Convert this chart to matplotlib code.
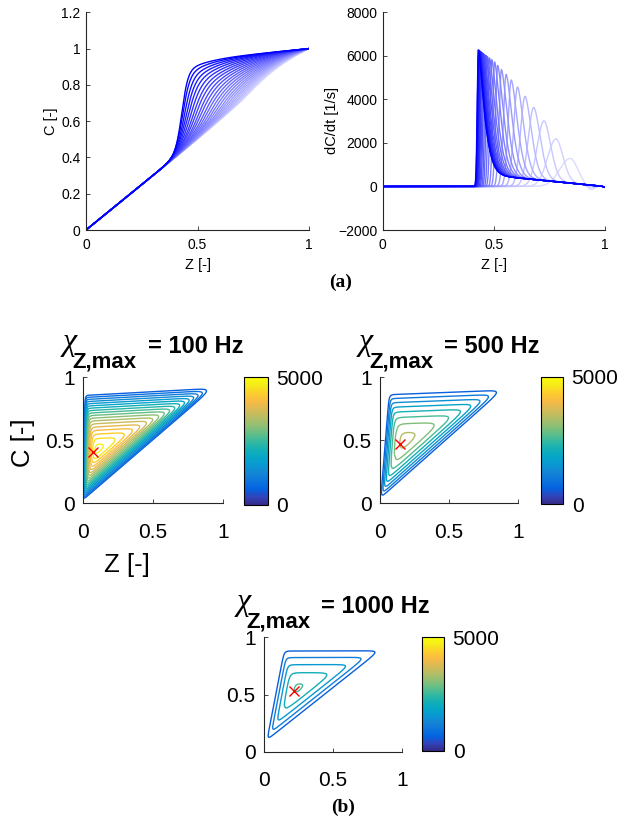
import numpy as np
import matplotlib
matplotlib.use("Agg")
import matplotlib.pyplot as plt
from matplotlib.colors import LinearSegmentedColormap, Normalize
import matplotlib.cm as cm

plt.rcParams['font.family'] = ['Liberation Sans', 'DejaVu Sans']

# ---------------- data ----------------
# (a) right: dC/dt curves, one peak per curve (Z position, height in 1/s)
peak_z = [0.430, 0.431, 0.433, 0.435, 0.437, 0.440, 0.444, 0.447, 0.452, 0.457,
          0.464, 0.471, 0.480, 0.490, 0.503, 0.517, 0.534, 0.555, 0.578, 0.606,
          0.640, 0.679, 0.725, 0.779, 0.843]
peak_rate = [6270, 6260, 6250, 6230, 6215, 6195, 6170, 6140, 6105, 6065,
             6020, 5965, 5900, 5820, 5720, 5560, 5370, 5150, 4890, 4570,
             4140, 3630, 3020, 2190, 1290]
tail_rate = 1000          # slow tail level of dC/dt after ignition (x (1-Z))
dip_rate = [0]*22 + [60, 130, 220]   # small undershoot near Z~0.93 (light curves)
# (a) left: C(Z) curves, ignition position of each curve
ign_z = [0.430, 0.434, 0.441, 0.448, 0.456, 0.465, 0.475, 0.484, 0.495, 0.505,
         0.517, 0.528, 0.540, 0.552, 0.564, 0.577, 0.589, 0.602, 0.616, 0.629,
         0.643, 0.657, 0.671, 0.685, 0.700]

# (b) contour panels
chi_hz = [100, 500, 1000]
peak_pts = [(0.074, 0.405), (0.145, 0.468), (0.219, 0.530)]
peak_vals = [5050, 3680, 2860]
# corners of the outermost contour (bottom-left, top-left, right)
tri_A = [(0.000, 0.028), (0.006, 0.046), (0.022, 0.104)]
tri_B = [(0.014, 0.856), (0.066, 0.862), (0.146, 0.880)]
tri_R = [(0.926, 0.912), (0.880, 0.897), (0.834, 0.882)]
profile = [1.6, 1.7, 1.4]
round_w = [0.022, 0.035, 0.035]
levels = [[600, 850, 1100, 1350, 1600, 1850, 2100, 2350, 2600, 2850, 3100, 3350,
           3600, 3850, 4100, 4350, 4600, 4850],
          [600, 1000, 1400, 1800, 2200, 2600, 3000, 3400],
          [600, 1100, 1600, 2100, 2600]]
cbar_ticks = [0, 5000]

# parula colormap control points
parula_pts = [(0.2081, 0.1663, 0.5292), (0.1959, 0.2645, 0.7279), (0.0117, 0.3875, 0.8820),
              (0.0498, 0.4586, 0.8641), (0.0793, 0.5200, 0.8312), (0.0343, 0.5966, 0.8199),
              (0.0228, 0.6535, 0.7768), (0.0843, 0.6928, 0.7062), (0.2178, 0.7250, 0.6193),
              (0.3953, 0.7459, 0.5244), (0.5709, 0.7485, 0.4494), (0.7184, 0.7411, 0.3905),
              (0.8507, 0.7299, 0.3360), (0.9739, 0.7314, 0.2666), (0.9880, 0.8066, 0.1794),
              (0.9598, 0.9218, 0.0948), (0.9763, 0.9831, 0.0538)]
parula = LinearSegmentedColormap.from_list('parula', parula_pts)

# ---------------- figure ----------------
W, H = 621, 822
fig = plt.figure(figsize=(W / 100, H / 100), dpi=100)


def fpos(x0, y0, x1, y1):
    return [x0 / W, 1 - y1 / H, (x1 - x0) / W, (y1 - y0) / H]


def ftext(x, y, s, **kw):
    return fig.text(x / W, 1 - y / H, s, **kw)


def style_axes(ax, lsize, xpad, ypad):
    for s in ('top', 'right'):
        ax.spines[s].set_visible(False)
    for s in ('left', 'bottom'):
        ax.spines[s].set_linewidth(0.8)
        ax.spines[s].set_color('#262626')
    ax.tick_params(direction='in', length=3, width=0.6, labelsize=lsize, colors='#262626')
    ax.tick_params(axis='x', pad=xpad)
    ax.tick_params(axis='y', pad=ypad)
    for lab in ax.get_xticklabels() + ax.get_yticklabels():
        lab.set_color('black')


N = len(peak_z)
z = np.linspace(0, 1, 1201)


def line_color(k):
    f = 0.86 * k / (N - 1)
    return (f, f, 1.0)


# ---- (a) left: C vs Z
ax1 = fig.add_axes(fpos(86, 12.3, 309, 230))
for k in reversed(range(N)):
    t = k / (N - 1)
    c = ign_z[k]
    w = 0.014 + 0.05 * t
    b = 0.10 + 0.76 * (1 - t) ** 1.6
    tau = 0.12 + 0.5 * t
    s = 1 / (1 + np.exp(-(z - c) / w))
    s = s * (b + (1 - b) * (1 - np.exp(-np.clip(z - c + 0.01, 0, None) / tau)))
    C = z + (1 - z) * 0.88 * s
    ax1.plot(z, C, color=line_color(k), lw=1.0)
ax1.set_xlim(0, 1)
ax1.set_ylim(0, 1.2)
ax1.set_xticks([0, 0.5, 1])
ax1.set_xticklabels(['0', '0.5', '1'])
ax1.set_yticks([0, 0.2, 0.4, 0.6, 0.8, 1.0, 1.2])
ax1.set_yticklabels(['0', '0.2', '0.4', '0.6', '0.8', '1', '1.2'])
style_axes(ax1, 10, 6, 4)
ftext(51, 121, 'C [-]', fontsize=10.5, rotation=90, ha='center', va='center')
ftext(197.5, 265, 'Z [-]', fontsize=10.5, ha='center', va='center')

# ---- (a) right: dC/dt vs Z
ax2 = fig.add_axes(fpos(382.7, 12.3, 605, 230))
for k in reversed(range(N)):
    p = peak_z[k]
    Hk = peak_rate[k]
    u = (p - peak_z[0]) / (peak_z[-1] - peak_z[0])
    sl = 0.007 + 0.06 * u ** 1.5
    sr = 0.035 + 0.012 * u
    q = 1.3 + 0.7 * u
    d = z - p
    left = np.exp(-(np.clip(-d, 0, None) / sl) ** 2)
    right = np.exp(-(np.clip(d, 0, None) / sr) ** q)
    shape = np.where(d < 0, left, right)
    step = 1 / (1 + np.exp(-d / (0.5 * sl)))
    base = tail_rate * (1 - z) * step
    v = (Hk - 0.5 * tail_rate * (1 - p)) * shape + base
    v = v - dip_rate[k] * np.exp(-((z - 0.935) / 0.025) ** 2)
    v = v - 40 * np.exp(-((z - 1.0) / 0.01) ** 2) * step
    ax2.plot(z, v, color=line_color(k), lw=1.0)
ax2.set_xlim(0, 1)
ax2.set_ylim(-2000, 8000)
ax2.set_xticks([0, 0.5, 1])
ax2.set_xticklabels(['0', '0.5', '1'])
ax2.set_yticks([-2000, 0, 2000, 4000, 6000, 8000])
style_axes(ax2, 10, 6, 4)
ftext(332, 121, 'dC/dt [1/s]', fontsize=10.5, rotation=90, ha='center', va='center')
ftext(494, 265, 'Z [-]', fontsize=10.5, ha='center', va='center')

ftext(341, 282, '(a)', fontsize=14, fontweight='bold', family=['Liberation Serif'],
      ha='center', va='center')


# ---- (b) contour panels: nested rounded triangles around the peak
def gblur(F, sig_px):
    r = int(3 * sig_px)
    x = np.arange(-r, r + 1)
    ker = np.exp(-0.5 * (x / sig_px) ** 2)
    ker /= ker.sum()
    Fp = np.pad(F, r, mode='edge')
    tmp = np.apply_along_axis(lambda v: np.convolve(v, ker, mode='valid'), 0, Fp)
    return np.apply_along_axis(lambda v: np.convolve(v, ker, mode='valid'), 1, tmp)


def tri_field(Zg, Cg, A, B, R, P, f0, fmax, gam, rw, dx):
    M = np.array([[A[0] - R[0], B[0] - R[0]], [A[1] - R[1], B[1] - R[1]]])
    Mi = np.linalg.inv(M)

    def bary(x, y):
        la = Mi[0, 0] * (x - R[0]) + Mi[0, 1] * (y - R[1])
        lb = Mi[1, 0] * (x - R[0]) + Mi[1, 1] * (y - R[1])
        return la, lb, 1 - la - lb

    L = bary(Zg, Cg)
    Ls = bary(*P)
    D = np.stack([1 - l / ls for l, ls in zip(L, Ls)])
    sh = np.clip(D.max(axis=0), 1e-6, None)
    n0 = 3.0 + 10.0 * np.clip(sh, 0, 1.2)
    s = sh * (1 + np.log(np.sum(np.exp(-n0 * (1 - D / sh)), axis=0)) / n0)
    F = f0 + (fmax - f0) * (1 - np.clip(s, 0, 3) ** gam)
    Fb = gblur(F, rw / dx)
    wgt = np.exp(-(sh / 0.45) ** 2)
    return wgt * Fb + (1 - wgt) * F


ax_px = [(83, 377.3, 223, 503.3), (380, 377.3, 518.3, 503.3), (264, 637.3, 402.3, 751.7)]
cb_px = [(244, 377.3, 268, 505), (540.7, 376.7, 563.3, 504.3), (421.7, 637.3, 444.3, 750.7)]
title_base = [353, 353, 613]

g = np.linspace(0, 1, 501)
Zg, Cg = np.meshgrid(g, g)
norm = Normalize(0, 5000)
renderer = fig.canvas.get_renderer()

for i in range(3):
    ax = fig.add_axes(fpos(*ax_px[i]))
    F = tri_field(Zg, Cg, tri_A[i], tri_B[i], tri_R[i], peak_pts[i],
                  levels[i][0], peak_vals[i], profile[i], round_w[i], g[1] - g[0])
    ax.contour(Zg, Cg, F, levels=levels[i], cmap=parula, norm=norm, linewidths=1.0)
    ax.plot([peak_pts[i][0]], [peak_pts[i][1]], 'x', color='red', ms=7, mew=1.0)
    ax.set_xlim(0, 1)
    ax.set_ylim(0, 1)
    ax.set_xticks([0, 0.5, 1])
    ax.set_xticklabels(['0', '0.5', '1'])
    ax.set_yticks([0, 0.5, 1])
    ax.set_yticklabels(['0', '0.5', '1'])
    style_axes(ax, 15, 14, 6)

    cax = fig.add_axes(fpos(*cb_px[i]))
    cb = fig.colorbar(cm.ScalarMappable(norm=norm, cmap=parula), cax=cax, ticks=cbar_ticks)
    cb.outline.set_linewidth(0.8)
    cax.tick_params(length=0, labelsize=15, pad=6)
    cax.set_yticklabels([str(v) for v in cbar_ticks])

    # title  chi_{Z,max} = ... Hz
    x0, y0, x1, y1 = ax_px[i]
    xc = (x0 + x1) / 2
    yb = title_base[i]
    t1 = ftext(0, 0, 'χ', family=['Liberation Serif'], style='italic', fontsize=23,
               ha='left', va='baseline')
    t2 = ftext(0, 0, 'Z,max', fontweight='bold', fontsize=16, ha='left', va='baseline')
    t3 = ftext(0, 0, '= %d Hz' % chi_hz[i], fontweight='bold', fontsize=17,
               ha='left', va='baseline')
    w1 = t1.get_window_extent(renderer).width
    w2 = t2.get_window_extent(renderer).width
    w3 = t3.get_window_extent(renderer).width
    ov, gap = 4, 11
    total = w1 - ov + w2 + gap + w3
    xs = xc - total / 2
    t1.set_position((xs / W, 1 - (yb - 3) / H))
    t2.set_position(((xs + w1 - ov) / W, 1 - (yb + 14) / H))
    t3.set_position(((xs + w1 - ov + w2 + gap) / W, 1 - yb / H))

ftext(23, 443, 'C [-]', fontsize=18.5, rotation=90, ha='center', va='center')
ftext(127, 565, 'Z [-]', fontsize=18.5, ha='center', va='center')
ftext(343, 807, '(b)', fontsize=14, fontweight='bold', family=['Liberation Serif'],
      ha='center', va='center')

fig.savefig('out.png', dpi=100)
